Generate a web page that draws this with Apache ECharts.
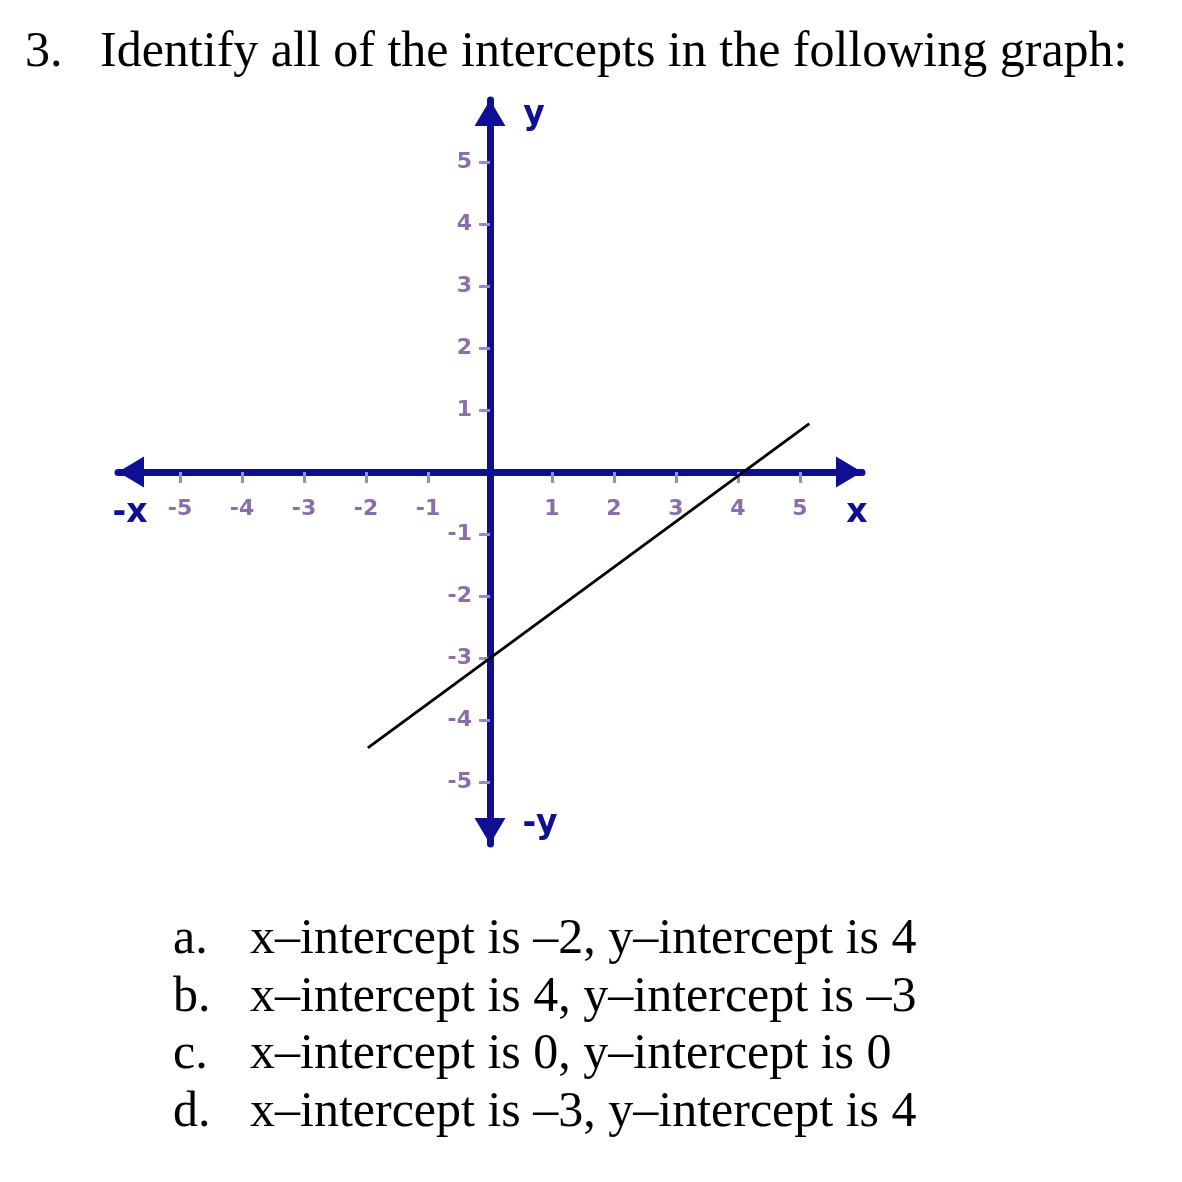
<!DOCTYPE html>
<html>
<head>
<meta charset="utf-8">
<script src="https://cdn.jsdelivr.net/npm/echarts@6/dist/echarts.min.js"></script>
<style>
html,body{margin:0;padding:0;background:#fff;}
#chart{width:1182px;height:1182px;}
</style>
</head>
<body>
<div id="chart"></div>
<script>
// ---- data ----
const xTickValues = [-5, -4, -3, -2, -1, 1, 2, 3, 4, 5];
const yTickValues = [-5, -4, -3, -2, -1, 1, 2, 3, 4, 5];
const lineX = [-1.97, 5.15];
const lineY = [-4.45, 0.78];
const questionNumber = '3.';
const questionText = 'Identify all of the intercepts in the following graph:';
const choiceLetters = ['a.', 'b.', 'c.', 'd.'];
const choiceTexts = [
  'x\u2013intercept is \u20132, y\u2013intercept is 4',
  'x\u2013intercept is 4, y\u2013intercept is \u20133',
  'x\u2013intercept is 0, y\u2013intercept is 0',
  'x\u2013intercept is \u20133, y\u2013intercept is 4'
];
const axisNames = { pos_y: 'y', neg_y: '-y', pos_x: 'x', neg_x: '-x' };

// ---- styles ----
const NAVY = '#0f0f94';
const TICK = '#8e8ed2';
const LABEL = '#8a6eaa';
const serif = '"Liberation Serif", "Times New Roman", serif';
const sans = '"DejaVu Sans", Verdana, sans-serif';

const lineData = lineX.map((x, i) => [x, lineY[i]]);

const graphics = [];
graphics.push({ type: 'text', left: 25, top: 28, style: { text: questionNumber, font: '50px ' + serif, fill: '#000' } });
graphics.push({ type: 'text', left: 100, top: 28, style: { text: questionText, font: '50px ' + serif, fill: '#000' } });
choiceLetters.forEach((l, i) => {
  const top = 915 + i * 57.5;
  graphics.push({ type: 'text', left: 173, top: top, style: { text: l, font: '50px ' + serif, fill: '#000' } });
  graphics.push({ type: 'text', left: 250, top: top, style: { text: choiceTexts[i], font: '50px ' + serif, fill: '#000' } });
});
const nameFont = 'bold 33px ' + sans;
graphics.push({ type: 'text', x: 534, y: 115, style: { text: axisNames.pos_y, font: nameFont, fill: NAVY, align: 'center', verticalAlign: 'middle' } });
graphics.push({ type: 'text', x: 540, y: 824, style: { text: axisNames.neg_y, font: nameFont, fill: NAVY, align: 'center', verticalAlign: 'middle' } });
graphics.push({ type: 'text', x: 857, y: 513, style: { text: axisNames.pos_x, font: nameFont, fill: NAVY, align: 'center', verticalAlign: 'middle' } });
graphics.push({ type: 'text', x: 130, y: 513, style: { text: axisNames.neg_x, font: nameFont, fill: NAVY, align: 'center', verticalAlign: 'middle' } });

const axisCommon = {
  type: 'value',
  min: -6,
  max: 6,
  interval: 1,
  offset: -372,
  splitLine: { show: false },
  axisLine: {
    show: true,
    onZero: false,
    symbol: ['triangle', 'triangle'],
    symbolSize: [31, 26],
    symbolOffset: [13, -13],
    lineStyle: { color: NAVY, width: 7 }
  },
  axisTick: { show: true, length: 11, lineStyle: { color: TICK, width: 3 } },
  axisLabel: { show: true, color: LABEL, fontFamily: sans, fontWeight: 'bold', fontSize: 22 }
};

const chart = echarts.init(document.getElementById('chart'), null, { renderer: 'canvas' });
chart.setOption({
  backgroundColor: '#fff',
  animation: false,
  grid: { left: 118, top: 100, width: 744, height: 744, containLabel: false },
  xAxis: Object.assign({}, axisCommon, {
    position: 'bottom',
    axisTick: Object.assign({}, axisCommon.axisTick, { customValues: xTickValues }),
    axisLabel: Object.assign({}, axisCommon.axisLabel, { customValues: xTickValues, margin: 26 })
  }),
  yAxis: Object.assign({}, axisCommon, {
    position: 'left',
    axisTick: Object.assign({}, axisCommon.axisTick, { customValues: yTickValues }),
    axisLabel: Object.assign({}, axisCommon.axisLabel, { customValues: yTickValues, margin: 18 })
  }),
  series: [{
    type: 'line',
    data: lineData,
    symbol: 'none',
    lineStyle: { color: '#000', width: 2.8 },
    z: 5
  }],
  graphic: graphics
});
</script>
</body>
</html>
